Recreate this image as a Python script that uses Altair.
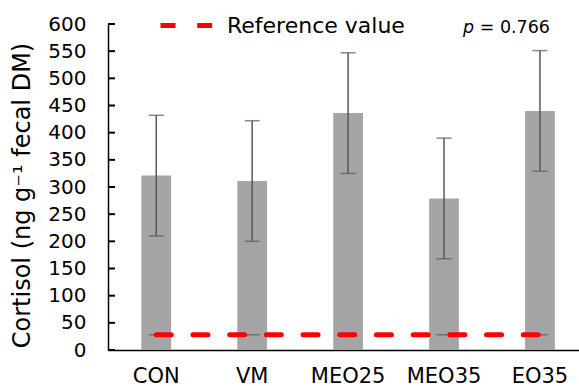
import altair as alt
import pandas as pd

categories = ["CON", "VM", "MEO25", "MEO35", "EO35"]
means = [321, 311, 436, 279, 440]
errors = [111, 111, 111, 111, 111]
ref_value = 28
ref_label = "Reference value"
y_ticks = list(range(0, 601, 50))
p_label = "= 0.766"

df = pd.DataFrame({"cat": categories, "mean": means, "err": errors})
df["lower"] = df["mean"] - df["err"]
df["upper"] = df["mean"] + df["err"]
ref_df = pd.DataFrame({"cat": categories, "ref": [ref_value] * len(categories), "series": [ref_label] * len(categories)})
tick_df = pd.DataFrame({"v": y_ticks})

FONT = "DejaVu Sans"

xscale = alt.Scale(domain=categories, paddingInner=0.69, paddingOuter=0.30, align=0.58)
yscale = alt.Scale(domain=[0, 600], nice=False)

x_axis = alt.Axis(title=None, labelAngle=0, ticks=False, labelFontSize=21,
                  labelPadding=15, labelColor="#000000", domainColor="#000000",
                  domainWidth=1.5, labelFont=FONT)
y_axis = alt.Axis(title="Cortisol (ng g\u207b\u00b9 fecal DM)", values=y_ticks,
                  ticks=False, labelFontSize=20, labelPadding=22, labelFont=FONT,
                  labelOverlap=False, labelFlush=False,
                  labelColor="#000000", domainColor="#000000", domainWidth=1.5,
                  grid=False, titleFontSize=24, titleFont=FONT, titleFontWeight="normal",
                  titleColor="#000000", titleY=171, titlePadding=13)


def X():
    return alt.X("cat:N", scale=xscale, sort=categories, axis=x_axis)


def Y(field):
    return alt.Y(field, scale=yscale, axis=y_axis)


base = alt.Chart(df)

bars = base.mark_bar(color="#A5A5A5").encode(x=X(), y=Y("mean:Q"))

stems = base.mark_rule(color="#595959", strokeWidth=1.5).encode(
    x=X(), y=Y("lower:Q"), y2="upper:Q"
)

caps = base.transform_fold(["lower", "upper"], as_=["k", "val"]).mark_tick(
    color="#595959", size=15, thickness=1.5
).encode(x=X(), y=Y("val:Q"))

ref_caps = alt.Chart(ref_df).mark_tick(color="#595959", size=15, thickness=1.5).encode(
    x=X(), y=Y("ref:Q")
)

ref_line = alt.Chart(ref_df).mark_line(strokeWidth=5, strokeDash=[15, 21.7], strokeCap="round").encode(
    x=X(),
    y=Y("ref:Q"),
    color=alt.Color("series:N", scale=alt.Scale(range=["#FF0000"]),
                    legend=alt.Legend(title=None, orient="none", legendX=50, legendY=-27,
                                      symbolType="stroke", symbolSize=2704, symbolStrokeWidth=5,
                                      symbolDash=[15, 21.7], labelFontSize=22, labelFont=FONT,
                                      labelColor="#000000", labelOffset=12, padding=0,
                                      labelLimit=400)),
)

inner_ticks = alt.Chart(tick_df).mark_rule(color="#000000", strokeWidth=2).encode(
    y=Y("v:Q"), x=alt.value(0), x2=alt.value(7)
)

p_italic = alt.Chart(pd.DataFrame({"t": ["p"]})).mark_text(
    fontSize=17.5, font=FONT, fontStyle="italic", align="left", baseline="alphabetic", color="#000000"
).encode(text="t:N", x=alt.value(355), y=alt.value(9))

p_rest = alt.Chart(pd.DataFrame({"t": [p_label]})).mark_text(
    fontSize=17.5, font=FONT, align="right", baseline="alphabetic", color="#000000"
).encode(text="t:N", x=alt.value(442), y=alt.value(9))

chart = alt.layer(bars, stems, caps, ref_caps, ref_line, inner_ticks, p_italic, p_rest).properties(
    width=471, height=326,
    autosize=alt.AutoSizeParams(type="none"),
    padding={"left": 108, "top": 24, "right": 0, "bottom": 36},
).configure(font=FONT).configure_view(stroke=None)

chart.save("out.html", embed_options={"renderer": "svg", "actions": False})
